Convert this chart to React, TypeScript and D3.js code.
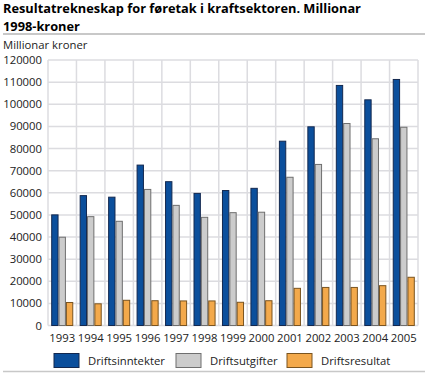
import React from 'react'
import * as d3 from 'd3'

const years = ['1993', '1994', '1995', '1996', '1997', '1998', '1999', '2000', '2001', '2002', '2003', '2004', '2005']
const seriesNames = ['Driftsinntekter', 'Driftsutgifter', 'Driftsresultat']
const inntekter = [50000, 58700, 58000, 72500, 65000, 59700, 61000, 62000, 83300, 89800, 108500, 102000, 111200]
const utgifter = [39900, 49200, 47100, 61500, 54300, 48900, 51000, 51200, 67000, 72800, 91300, 84400, 89600]
const resultat = [10400, 9800, 11400, 11200, 11100, 11100, 10500, 11200, 16800, 17200, 17200, 18000, 21800]
const yTicks = [0, 10000, 20000, 30000, 40000, 50000, 60000, 70000, 80000, 90000, 100000, 110000, 120000]

const fills = ['#0b4f9c', '#cccccc', '#f3a94b']
const strokes = ['#13284f', '#6f6f6f', '#7a5420']

const W = 426
const H = 374
const left = 48
const right = 418
const top = 60
const bottom = 325.5
const font = "'Open Sans', sans-serif"
const fs = 11.3

const App = () => {
  const values = [inntekter, utgifter, resultat]
  const x0 = d3.scaleBand().domain(years).range([left, right]).padding(0)
  const x1 = d3
    .scaleBand()
    .domain(seriesNames)
    .range([3.2, x0.bandwidth() - 3.2])
    .padding(0)
  const y = d3.scaleLinear().domain([0, 120000]).range([bottom, top])
  const grid = '#dcdce0'

  const legendX = [54, 176, 287]

  return (
    <svg width={W} height={H} style={{ position: 'absolute', left: 0, top: 0 }}>
      <rect width={W} height={H} fill="#fff" />
      <text x={3} y={13} fontFamily={font} fontWeight="bold" fontSize={12.8} fill="#000">
        Resultatrekneskap for føretak i kraftsektoren. Millionar
      </text>
      <text x={3} y={30.5} fontFamily={font} fontWeight="bold" fontSize={12.8} fill="#000">
        1998-kroner
      </text>
      <line x1={3} x2={425} y1={34} y2={34} stroke="#c8c8c8" strokeWidth={2} />
      <text x={3} y={49} fontFamily={font} fontSize={fs} fill="#222">
        Millionar kroner
      </text>

      {/* grid */}
      {yTicks.map(t => (
        <g key={t}>
          <line x1={left} x2={right} y1={y(t)} y2={y(t)} stroke={grid} strokeWidth={1.5} />
          <text x={42} y={y(t) + 4} textAnchor="end" fontFamily={font} fontSize={fs} fill="#222">
            {t}
          </text>
        </g>
      ))}
      {years.map(yr => (
        <line key={yr} x1={x0(yr)} x2={x0(yr)} y1={top} y2={bottom} stroke={grid} strokeWidth={1.5} />
      ))}
      <line x1={right} x2={right} y1={top} y2={bottom} stroke={grid} strokeWidth={1.5} />

      {/* bars */}
      {years.map((yr, i) => (
        <g key={yr} transform={`translate(${x0(yr)},0)`}>
          {seriesNames.map((s, k) => (
            <rect
              key={s}
              x={(x1(s) as number) + 0.5}
              y={y(values[k][i])}
              width={x1.bandwidth() - 1}
              height={bottom - y(values[k][i])}
              fill={fills[k]}
              stroke={strokes[k]}
              strokeWidth={1}
            />
          ))}
          <text
            x={x0.bandwidth() / 2}
            y={342}
            textAnchor="middle"
            fontFamily={font}
            fontSize={fs}
            fill="#222"
          >
            {yr}
          </text>
        </g>
      ))}

      {/* legend */}
      {seriesNames.map((s, k) => (
        <g key={s}>
          <rect x={legendX[k]} y={353.5} width={25} height={14} fill={fills[k]} stroke={strokes[k]} strokeWidth={1} />
          <text x={legendX[k] + 34} y={364.5} fontFamily={font} fontSize={fs} fill="#222">
            {s}
          </text>
        </g>
      ))}
      <line x1={3} x2={425} y1={371.5} y2={371.5} stroke="#c8c8c8" strokeWidth={1.5} />
    </svg>
  )
}

export default App
